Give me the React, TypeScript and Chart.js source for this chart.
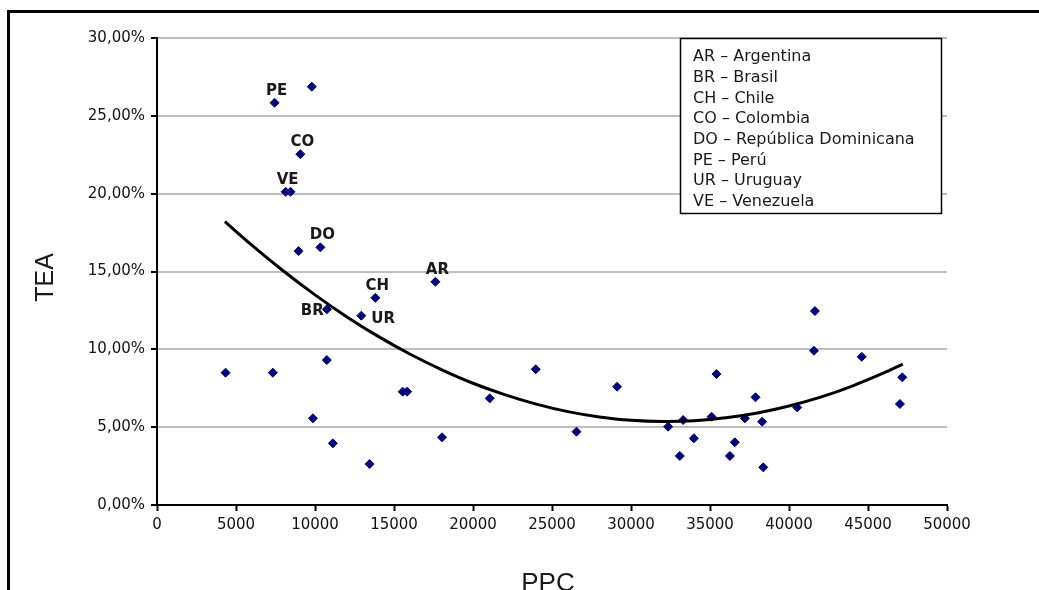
import React, { useEffect, useRef } from "react";
import { Chart, registerables } from "chart.js";

Chart.register(...registerables);

// PPC (x) and TEA % (y) for every country marker
const ppcValues = [
  7440, 9800, 9070, 8140, 8450, 10340, 8960, 17620, 13820, 10750, 12930,
  4340, 7330, 10750, 15550, 15830, 9870, 11130, 13460, 18040, 21060, 23970,
  26550, 29120, 32350, 33090, 33300, 33980, 35410, 35100, 36260, 36570,
  37210, 37880, 38300, 38370, 40520, 41580, 41640, 44600, 47170, 47020,
];
const teaValues = [
  25.84, 26.87, 22.54, 20.12, 20.12, 16.55, 16.31, 14.34, 13.31, 12.57, 12.16,
  8.5, 8.5, 9.31, 7.28, 7.28, 5.57, 3.96, 2.63, 4.35, 6.85, 8.72,
  4.71, 7.6, 5.03, 3.15, 5.46, 4.28, 8.41, 5.67, 3.15, 4.03,
  5.57, 6.92, 5.35, 2.42, 6.27, 9.91, 12.46, 9.52, 8.2, 6.49,
];
const pointCodes = [
  "PE", "", "CO", "VE", "", "DO", "", "AR", "CH", "BR", "UR",
  "", "", "", "", "", "", "", "", "", "", "",
  "", "", "", "", "", "", "", "", "", "",
  "", "", "", "", "", "", "", "", "", "",
];

// polynomial trend line
const trendPpc = [
  4300, 6000, 8000, 10000, 12000, 14000, 16000, 18000, 20000, 22000, 24000,
  26000, 28000, 30000, 32000, 34000, 36000, 38000, 40000, 42000, 44000, 46000, 47200,
];
const trendTea = [
  18.2, 16.69, 15.03, 13.5, 12.1, 10.83, 9.7, 8.7, 7.82, 7.09, 6.48,
  6.0, 5.66, 5.44, 5.36, 5.41, 5.6, 5.91, 6.36, 6.93, 7.64, 8.48, 9.05,
];

const legendLines = [
  "AR – Argentina",
  "BR – Brasil",
  "CH – Chile",
  "CO – Colombia",
  "DO – República Dominicana",
  "PE – Perú",
  "UR – Uruguay",
  "VE – Venezuela",
];

const xTitle = "PPC";
const yTitle = "TEA";

const decorPlugin = {
  id: "decor",
  afterDraw(chart: any) {
    const ctx = chart.ctx as CanvasRenderingContext2D;
    const area = chart.chartArea;
    ctx.save();

    // outer frame
    ctx.strokeStyle = "#000";
    ctx.lineWidth = 3;
    ctx.beginPath();
    ctx.moveTo(8.5, 600);
    ctx.lineTo(8.5, 11.5);
    ctx.lineTo(1045, 11.5);
    ctx.stroke();

    // point labels
    const meta = chart.getDatasetMeta(1);
    ctx.fillStyle = "#1a1a1a";
    ctx.font = 'bold 15px "DejaVu Sans"';
    ctx.textBaseline = "middle";
    pointCodes.forEach((code, i) => {
      if (!code) return;
      const el = meta.data[i];
      if (!el) return;
      if (code === "BR") {
        ctx.textAlign = "right";
        ctx.fillText(code, el.x - 3, el.y + 2);
      } else if (code === "UR") {
        ctx.textAlign = "left";
        ctx.fillText(code, el.x + 10, el.y + 3);
      } else {
        ctx.textAlign = "center";
        ctx.fillText(code, el.x + 2, el.y - 12);
      }
    });

    // axis titles
    ctx.fillStyle = "#1a1a1a";
    ctx.font = '25px "Liberation Sans"';
    ctx.textAlign = "center";
    ctx.textBaseline = "middle";
    ctx.save();
    ctx.translate(46, (area.top + area.bottom) / 2 + 6);
    ctx.rotate(-Math.PI / 2);
    ctx.fillText(yTitle, 0, 0);
    ctx.restore();
    ctx.font = '26px "Liberation Sans"';
    ctx.textBaseline = "alphabetic";
    ctx.fillText(xTitle, (area.left + area.right) / 2 - 4, 591);

    // legend box
    const bx = 680.5, by = 38.5, bw = 261, bh = 175;
    ctx.fillStyle = "#fff";
    ctx.fillRect(bx, by, bw, bh);
    ctx.strokeStyle = "#000";
    ctx.lineWidth = 1.5;
    ctx.strokeRect(bx, by, bw, bh);
    ctx.fillStyle = "#1a1a1a";
    ctx.font = '16px "DejaVu Sans"';
    ctx.textAlign = "left";
    ctx.textBaseline = "middle";
    legendLines.forEach((t, i) => {
      ctx.fillText(t, 693, 57 + i * 20.7);
    });

    ctx.restore();
  },
};

export default function App() {
  const ref = useRef<HTMLCanvasElement>(null);

  useEffect(() => {
    if (!ref.current) return;
    const scatterData = ppcValues.map((x, i) => ({ x, y: teaValues[i] }));
    const trendData = trendPpc.map((x, i) => ({ x, y: trendTea[i] }));
    const tickFont = { family: '"DejaVu Sans"', size: 15 };

    const chart = new Chart(ref.current, {
      type: "scatter",
      data: {
        datasets: [
          {
            type: "line",
            label: "Tendencia",
            data: trendData,
            borderColor: "#000",
            borderWidth: 3,
            pointRadius: 0,
            fill: false,
            tension: 0.3,
          } as any,
          {
            label: "TEA",
            data: scatterData,
            pointStyle: "rectRot",
            pointRadius: 4.5,
            backgroundColor: "#000080",
            borderColor: "#000080",
            borderWidth: 1,
          },
        ],
      },
      options: {
        responsive: false,
        animation: false,
        layout: { padding: { left: 0, top: 38, right: 92, bottom: 0 } },
        plugins: {
          legend: { display: false },
          tooltip: { enabled: false },
        },
        scales: {
          x: {
            type: "linear",
            min: 0,
            max: 50000,
            afterFit: (s: any) => {
              s.height = 85;
            },
            ticks: {
              stepSize: 5000,
              color: "#111",
              font: tickFont,
              padding: 5,
              maxRotation: 0,
              callback: (v: any) => String(v),
            },
            grid: {
              drawOnChartArea: false,
              drawTicks: true,
              tickLength: 6,
              tickColor: "#000",
              tickWidth: 2,
            },
            border: { color: "#000", width: 2 },
          },
          y: {
            type: "linear",
            min: 0,
            max: 30,
            afterFit: (s: any) => {
              s.width = 157;
            },
            ticks: {
              stepSize: 5,
              color: "#111",
              font: tickFont,
              padding: 6,
              callback: (v: any) => Number(v).toFixed(2).replace(".", ",") + "%",
            },
            grid: {
              color: "#bdbdbd",
              lineWidth: 2,
              tickLength: 6,
              tickColor: "#000",
              tickWidth: 2,
            },
            border: { color: "#000", width: 2 },
          },
        },
      },
      plugins: [decorPlugin],
    });
    return () => chart.destroy();
  }, []);

  return (
    <div style={{ position: "fixed", left: 0, top: 0, width: 1039, height: 590, background: "#fff" }}>
      <canvas ref={ref} width={1039} height={590} style={{ display: "block" }} />
    </div>
  );
}
